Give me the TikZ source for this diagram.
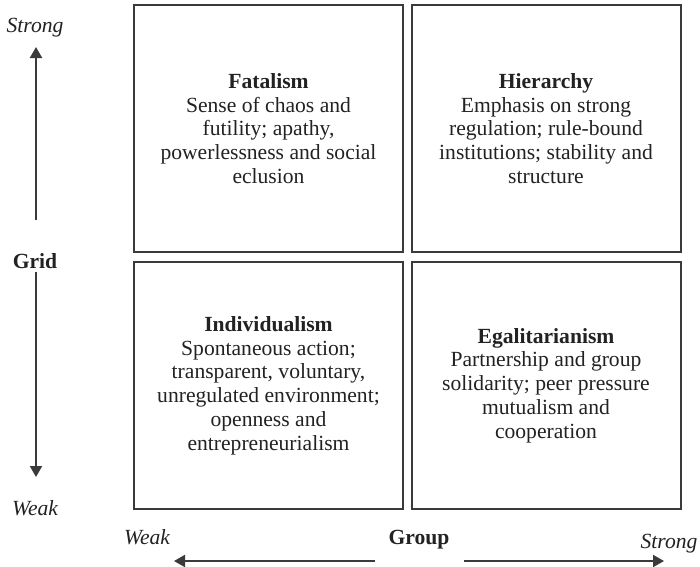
\documentclass[tikz,border=0pt]{standalone}
\usepackage{fontspec}
\setmainfont{Liberation Serif}
\usetikzlibrary{arrows.meta}
\definecolor{linegray}{HTML}{3A3A3A}
\definecolor{textgray}{HTML}{222222}
\begin{document}
\begin{tikzpicture}[x=1pt,y=-1pt,
  every node/.style={text=textgray,font=\fontsize{21.6}{23.8}\selectfont},
  quad/.style={draw=linegray,line width=2pt,minimum width=269pt,minimum height=247pt,align=center,inner sep=0pt},
  axis/.style={draw=linegray,line width=2pt,-{Triangle[length=11pt,width=12pt]}},
  lab/.style={anchor=base,font=\fontsize{21.6}{23.8}\selectfont\itshape},
  ttl/.style={anchor=base,font=\fontsize{21.6}{23.8}\selectfont\bfseries}]
\useasboundingbox (0,0) rectangle (700,566);
\fill[white] (0,0) rectangle (700,566);
% quadrants
\node[quad] (fat) at (268.5,128.5) {\textbf{Fatalism}\\Sense of chaos and\\futility; apathy,\\powerlessness and social\\eclusion};
\node[quad] (hie) at (546,128.5) {\textbf{Hierarchy}\\Emphasis on strong\\regulation; rule-bound\\institutions; stability and\\structure};
\node[quad] (ind) at (268.5,385.5) {\textbf{Individualism}\\Spontaneous action;\\transparent, voluntary,\\unregulated environment;\\openness and\\entrepreneurialism};
\node[quad] (ega) at (546,385.5) {\textbf{Egalitarianism}\\Partnership and group\\solidarity; peer pressure\\mutualism and\\cooperation};
% grid axis
\node[lab] (gstrong) at (35,32) {Strong};
\node[ttl] (grid) at (35,268) {Grid};
\node[lab] (gweak) at (35,515) {Weak};
\coordinate (gu1) at (36,220);
\coordinate (gu2) at (36,47);
\coordinate (gd1) at (36,272);
\coordinate (gd2) at (36,477);
\draw[axis] (gu1) -- (gu2);
\draw[axis] (gd1) -- (gd2);
% group axis
\node[lab] (hweak) at (147,544) {Weak};
\node[ttl] (group) at (419,544) {Group};
\node[lab] (hstrong) at (669,548) {Strong};
\coordinate (hl1) at (375,561);
\coordinate (hl2) at (174,561);
\coordinate (hr1) at (464,561);
\coordinate (hr2) at (664,561);
\draw[axis] (hl1) -- (hl2);
\draw[axis] (hr1) -- (hr2);
\end{tikzpicture}
\end{document}
